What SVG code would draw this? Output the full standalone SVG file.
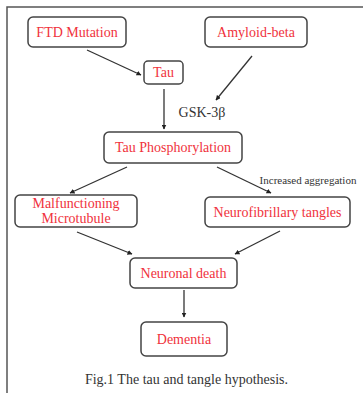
<svg xmlns="http://www.w3.org/2000/svg" width="363" height="393" viewBox="0 0 363 393">
<defs>
<style>
.box{fill:#fff;stroke:#444;stroke-width:1.5}
text{font-family:"Times New Roman","Liberation Serif","DejaVu Serif",serif}
.lbl{font-size:14px;fill:#f0323c;text-anchor:middle}
.dark{fill:#333;text-anchor:middle}
.edge{stroke:#333;stroke-width:1.3;fill:none;marker-end:url(#ah)}
</style>
<marker id="ah" viewBox="0 0 10 10" refX="9" refY="5" markerWidth="5" markerHeight="5" orient="auto" markerUnits="userSpaceOnUse">
<path d="M0,0 L10,5 L0,10 z" fill="#222"/>
</marker>
</defs>
<rect width="363" height="393" fill="#fff"/>
<path d="M7,393 V7 H363" fill="none" stroke="#555" stroke-width="1.5"/>
<g id="connectors">
<line class="edge" x1="87" y1="50" x2="141" y2="75"/>
<line class="edge" x1="252" y1="56" x2="216" y2="100"/>
<line class="edge" x1="164" y1="89" x2="164" y2="129"/>
<line class="edge" x1="127" y1="167" x2="70" y2="193"/>
<line class="edge" x1="217" y1="167" x2="271" y2="193"/>
<line class="edge" x1="77" y1="232" x2="132" y2="254"/>
<line class="edge" x1="280" y1="231" x2="235" y2="254"/>
<line class="edge" x1="184" y1="290" x2="184" y2="317"/>
<text class="dark" x="308" y="184" font-size="11" font-family="Liberation Serif, serif">Increased aggregation</text>
<text class="dark" x="202" y="117" font-size="14" font-family="Liberation Serif, serif">GSK-3β</text>
</g>
<g id="ftd"><rect class="box" x="28" y="17" width="98" height="30" rx="5"/><text class="lbl" x="77" y="37">FTD Mutation</text></g>
<g id="amyloid"><rect class="box" x="205" y="17" width="102" height="30" rx="5"/><text class="lbl" x="256" y="37">Amyloid-beta</text></g>
<g id="tau"><rect class="box" x="144" y="61" width="39" height="23" rx="4"/><text class="lbl" x="163.5" y="77">Tau</text></g>
<g id="tauphos"><rect class="box" x="104" y="132" width="138" height="31" rx="5"/><text class="lbl" x="173" y="152">Tau Phosphorylation</text></g>
<g id="malf"><rect class="box" x="15" y="195" width="122" height="32" rx="5"/><text class="lbl" x="76" y="208">Malfunctioning</text><text class="lbl" x="76" y="223">Microtubule</text></g>
<g id="nft"><rect class="box" x="205" y="197" width="145" height="30" rx="5"/><text class="lbl" x="277.5" y="217">Neurofibrillary tangles</text></g>
<g id="death"><rect class="box" x="130" y="258" width="107" height="30" rx="5"/><text class="lbl" x="183.5" y="278">Neuronal death</text></g>
<g id="dementia"><rect class="box" x="141" y="322" width="86" height="34" rx="5"/><text class="lbl" x="184" y="344">Dementia</text></g>
<text class="dark" x="186.5" y="384" font-size="14">Fig.1 The tau and tangle hypothesis.</text>
</svg>
